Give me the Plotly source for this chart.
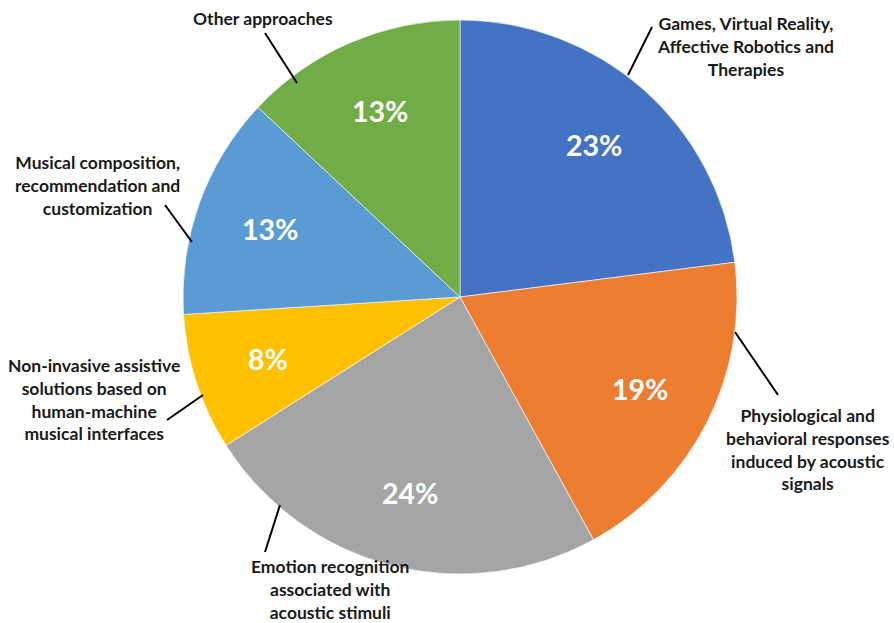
import math
import plotly.graph_objects as go

# ---- data ----
categories = [
    "Games, Virtual Reality,<br>Affective Robotics and<br>Therapies",
    "Physiological and<br>behavioral responses<br>induced by acoustic<br>signals",
    "Emotion recognition<br>associated with<br>acoustic stimuli",
    "Non-invasive assistive<br>solutions based on<br>human-machine<br>musical interfaces",
    "Musical composition,<br>recommendation and<br>customization",
    "Other approaches",
]
values = [23, 19, 24, 8, 13, 13]
colors = ["#4472C4", "#ED7D31", "#A5A5A5", "#FFC000", "#5B9BD5", "#70AD47"]

# ---- layout (pixels) ----
W, H = 894, 623
CX, CY, R = 460, 297, 277
PCT_R = 0.73
FONT = "Lato"

# label block centers and leader lines (pixel coordinates of layout)
label_pos = [(745, 46), (808, 449), (330, 589), (94, 399), (97, 185), (263, 18)]
leaders = [
    ((628, 75), (652, 27)),
    ((735, 332), (778, 395)),
    ((280, 505), (265, 552)),
    ((203, 395), (167, 420)),
    ((192, 242), (165, 205)),
    ((297, 83), (265, 33)),
]


def px(x):
    return x / W


def py(y):
    return 1 - y / H


fig = go.Figure(
    go.Pie(
        labels=[c.replace("<br>", " ") for c in categories],
        values=values,
        marker=dict(colors=colors, line=dict(color="white", width=0.6)),
        sort=False,
        direction="clockwise",
        rotation=0,
        textinfo="none",
        hoverinfo="label+percent",
        showlegend=False,
        domain=dict(x=[px(CX - R), px(CX + R)], y=[py(CY + R), py(CY - R)]),
    )
)

annotations = []
total = sum(values)
cum = 0
for v in values:
    mid = (cum + v / 2) / total * 2 * math.pi
    cum += v
    x = CX + PCT_R * R * math.sin(mid)
    y = CY - PCT_R * R * math.cos(mid)
    annotations.append(
        dict(
            x=px(x), y=py(y), xref="paper", yref="paper",
            text=f"<b>{round(v / total * 100)}%</b>", showarrow=False,
            font=dict(family=FONT, size=28.5, color="white"),
            xanchor="center", yanchor="middle",
        )
    )

for txt, (lx, ly) in zip(categories, label_pos):
    annotations.append(
        dict(
            x=px(lx), y=py(ly), xref="paper", yref="paper",
            text=f"<b>{txt}</b>", showarrow=False, align="center",
            font=dict(family=FONT, size=17.5, color="#1a1a1a"),
            xanchor="center", yanchor="middle",
        )
    )

shapes = []
for (x0, y0), (x1, y1) in leaders:
    shapes.append(
        dict(
            type="line", xref="paper", yref="paper",
            x0=px(x0), y0=py(y0), x1=px(x1), y1=py(y1),
            line=dict(color="black", width=2),
        )
    )

fig.update_layout(
    width=W, height=H,
    margin=dict(l=0, r=0, t=0, b=0),
    paper_bgcolor="white", plot_bgcolor="white",
    annotations=annotations, shapes=shapes,
)

fig.write_html(
    "out.html",
    config={"displayModeBar": False},
    post_script="document.body.style.margin='0';document.body.style.overflow='hidden';",
)
